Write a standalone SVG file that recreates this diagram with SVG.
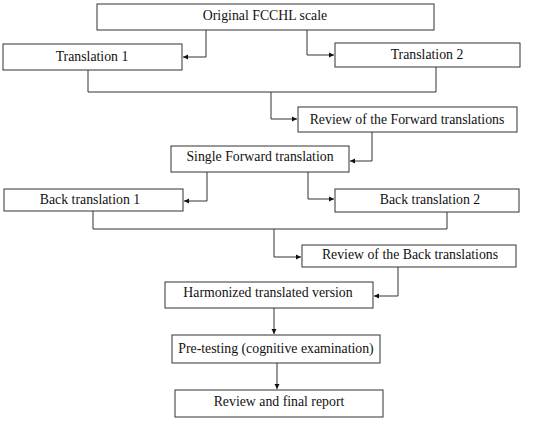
<svg xmlns="http://www.w3.org/2000/svg" width="550" height="422" viewBox="0 0 550 422">
<style>
.box{fill:#fff;stroke:#333;stroke-width:1}
.t{font-family:"Liberation Serif","Times New Roman",serif;font-size:13.8px;fill:#111;text-anchor:middle}
.c{fill:none;stroke:#333;stroke-width:1}
</style>
<defs>
<marker id="ah" markerWidth="6" markerHeight="6" refX="5" refY="3" orient="auto" markerUnits="userSpaceOnUse">
<path d="M0,0.5 L5,3 L0,5.5 z" fill="#111"/>
</marker>
</defs>
<rect width="550" height="422" fill="#fff"/>
<g id="connectors">
<path class="c" d="M206,30 V57 H183" marker-end="url(#ah)"/>
<path class="c" d="M307,30 V55 H334" marker-end="url(#ah)"/>
<path class="c" d="M88,70 V92 H436 V67"/>
<path class="c" d="M271,92 V119 H297" marker-end="url(#ah)"/>
<path class="c" d="M372,132 V161 H350" marker-end="url(#ah)"/>
<path class="c" d="M207,172 V201 H184" marker-end="url(#ah)"/>
<path class="c" d="M308,172 V199 H334" marker-end="url(#ah)"/>
<path class="c" d="M93,211 V229 H447 V212"/>
<path class="c" d="M274,229 V257 H301" marker-end="url(#ah)"/>
<path class="c" d="M398,267 V296 H374" marker-end="url(#ah)"/>
<path class="c" d="M274,308 V334" marker-end="url(#ah)"/>
<path class="c" d="M277,363 V389" marker-end="url(#ah)"/>
</g>
<g id="original"><rect class="box" x="97" y="4" width="337" height="26"/><text class="t" x="265" y="20">Original FCCHL scale</text></g>
<g id="translation1"><rect class="box" x="3" y="44" width="179" height="26"/><text class="t" x="92" y="61">Translation 1</text></g>
<g id="translation2"><rect class="box" x="335" y="43" width="185" height="24"/><text class="t" x="427" y="59">Translation 2</text></g>
<g id="reviewForward"><rect class="box" x="298" y="107" width="219" height="25"/><text class="t" x="407" y="124">Review of the Forward translations</text></g>
<g id="singleForward"><rect class="box" x="171" y="146" width="178" height="26"/><text class="t" x="260" y="161">Single Forward translation</text></g>
<g id="back1"><rect class="box" x="4" y="189" width="179" height="22"/><text class="t" x="90" y="204">Back translation 1</text></g>
<g id="back2"><rect class="box" x="335" y="189" width="184" height="23"/><text class="t" x="430" y="204">Back translation 2</text></g>
<g id="reviewBack"><rect class="box" x="302" y="245" width="214" height="22"/><text class="t" x="410" y="259">Review of the Back translations</text></g>
<g id="harmonized"><rect class="box" x="165" y="282" width="208" height="26"/><text class="t" x="268" y="297">Harmonized translated version</text></g>
<g id="pretesting"><rect class="box" x="172" y="335" width="208" height="28"/><text class="t" x="276" y="353">Pre-testing (cognitive examination)</text></g>
<g id="final"><rect class="box" x="175" y="390" width="208" height="27"/><text class="t" x="279" y="406">Review and final report</text></g>
</svg>
